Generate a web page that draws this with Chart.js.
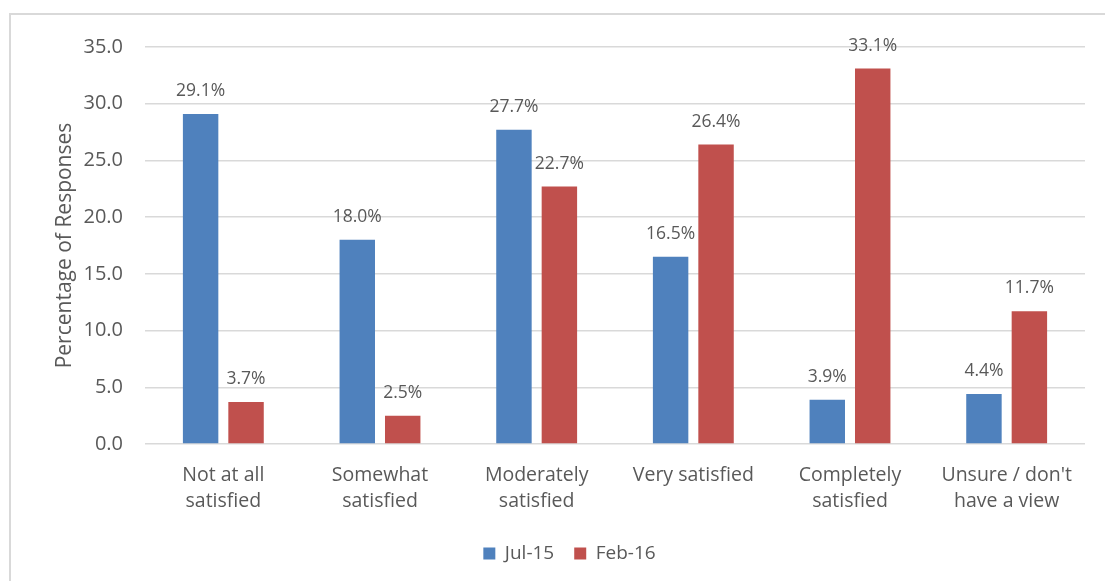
<!DOCTYPE html>
<html>
<head>
<meta charset="utf-8">
<script src="https://cdn.jsdelivr.net/npm/chart.js@4/dist/chart.umd.min.js"></script>
<style>
  html, body { margin: 0; padding: 0; background: #fff; }
  #wrap { position: relative; width: 1105px; height: 581px; overflow: hidden; }
  #frame { position: absolute; left: 9px; top: 13px; width: 1120px; height: 600px;
           border: 2px solid #d9d9d9; box-sizing: border-box; }
  canvas { position: absolute; left: 0; top: 0; }
</style>
</head>
<body>
<div id="wrap">
  <div id="frame"></div>
  <canvas id="chart" width="1105" height="581"></canvas>
</div>
<script>
// categories and series
var categories = [
  ['Not at all', 'satisfied'],
  ['Somewhat', 'satisfied'],
  ['Moderately', 'satisfied'],
  'Very satisfied',
  ['Completely', 'satisfied'],
  ['Unsure / don\'t', 'have a view']
];
var jul15 = [29.1, 18.0, 27.7, 16.5, 3.9, 4.4];
var feb16 = [3.7, 2.5, 22.7, 26.4, 33.1, 11.7];
var seriesNames = ['Jul-15', 'Feb-16'];

var textColor = '#595959';
var fontFamily = '"Open Sans", "DejaVu Sans", sans-serif';

// value labels above each bar
var barLabels = {
  id: 'barLabels',
  afterDatasetsDraw: function(chart) {
    var ctx = chart.ctx;
    ctx.save();
    ctx.font = '17.5px ' + fontFamily;
    ctx.fillStyle = textColor;
    ctx.textAlign = 'center';
    ctx.textBaseline = 'middle';
    chart.data.datasets.forEach(function(ds, i) {
      var meta = chart.getDatasetMeta(i);
      meta.data.forEach(function(bar, j) {
        ctx.fillText(ds.data[j].toFixed(1) + '%', bar.x, bar.y - 23);
      });
    });
    ctx.restore();
  }
};

// nudge legend to match the original placement
var legendShift = {
  id: 'legendShift',
  afterLayout: function(chart) {
    chart.legend.left += 27;
    chart.legend.right += 27;
  }
};

new Chart(document.getElementById('chart'), {
  type: 'bar',
  data: {
    labels: categories,
    datasets: [
      { label: seriesNames[0], data: jul15, backgroundColor: '#4f81bd' },
      { label: seriesNames[1], data: feb16, backgroundColor: '#c0504d' }
    ]
  },
  options: {
    responsive: false,
    animation: false,
    devicePixelRatio: 1,
    categoryPercentage: 0.58,
    barPercentage: 0.78,
    layout: { padding: { left: 0, right: 20, top: 47, bottom: 8 } },
    plugins: {
      tooltip: { enabled: false },
      legend: {
        position: 'bottom',
        labels: {
          boxWidth: 12,
          boxHeight: 12,
          padding: 20,
          color: textColor,
          font: { family: fontFamily, size: 19 }
        }
      }
    },
    scales: {
      x: {
        grid: { display: false, drawTicks: false },
        border: { display: false },
        ticks: {
          color: textColor,
          padding: 19,
          maxRotation: 0,
          autoSkip: false,
          font: { family: fontFamily, size: 19.5, lineHeight: 1.3 }
        },
        afterFit: function(scale) { scale.height = 80; }
      },
      y: {
        min: 0,
        max: 35,
        grid: { color: '#d9d9d9', lineWidth: 1.5, drawTicks: false },
        border: { display: false },
        ticks: {
          stepSize: 5,
          padding: 22,
          color: textColor,
          font: { family: fontFamily, size: 20 },
          callback: function(v) { return v.toFixed(1); }
        },
        title: {
          display: true,
          text: 'Percentage of Responses',
          color: textColor,
          padding: { top: 52, bottom: 0 },
          font: { family: fontFamily, size: 21 }
        },
        afterFit: function(scale) { scale.width = 145; }
      }
    }
  },
  plugins: [barLabels, legendShift]
});
</script>
</body>
</html>
